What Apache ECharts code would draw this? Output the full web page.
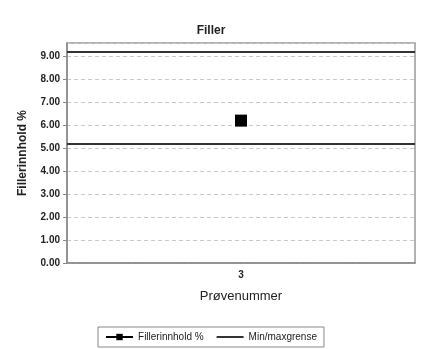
<!DOCTYPE html>
<html>
<head>
<meta charset="utf-8">
<script src="https://cdn.jsdelivr.net/npm/echarts@6/dist/echarts.min.js"></script>
<style>html,body{margin:0;padding:0;background:#fff}#c{width:422px;height:349px}</style>
</head>
<body>
<div id="c"></div>
<script>
var categories = ['3'];
var fillerValues = [6.2];
var limitValues = [5.2, 9.2];
var yTicks = [0, 1, 2, 3, 4, 5, 6, 7, 8, 9];

var FONT = '"Liberation Sans", Arial, sans-serif';
var chart = echarts.init(document.getElementById('c'), null, {renderer: 'canvas'});
chart.setOption({
  backgroundColor: '#fff',
  animation: false,
  title: {
    text: 'Filler', left: 'center', top: 20,
    textStyle: {fontFamily: FONT, fontSize: 12, fontWeight: 'bold', color: '#222'}
  },
  grid: {left: 67, right: 7, top: 43, bottom: 86, show: true, borderColor: '#999', borderWidth: 1.5, backgroundColor: '#fff'},
  xAxis: {
    type: 'category', data: categories, boundaryGap: true,
    name: 'Prøvenummer', nameLocation: 'middle', nameGap: 27,
    nameTextStyle: {fontFamily: FONT, fontSize: 13, color: '#222'},
    axisLine: {lineStyle: {color: '#888', width: 1.5}},
    axisTick: {show: false},
    axisLabel: {fontFamily: FONT, fontSize: 10, fontWeight: 'bold', color: '#222', margin: 7}
  },
  yAxis: {
    type: 'value', min: 0, max: 9.58, interval: 1,
    name: 'Fillerinnhold %', nameLocation: 'middle', nameRotate: 90, nameGap: 38,
    nameTextStyle: {fontFamily: FONT, fontSize: 12, fontWeight: 'bold', color: '#222'},
    axisLine: {show: true, lineStyle: {color: '#888', width: 1.5}},
    axisTick: {show: true, length: 4, lineStyle: {color: '#888'}},
    axisLabel: {
      fontFamily: FONT, fontSize: 10, fontWeight: 'bold', color: '#222', margin: 7, showMaxLabel: false,
      formatter: function (v) { return yTicks.indexOf(v) >= 0 ? v.toFixed(2) : ''; }
    },
    splitLine: {show: true, lineStyle: {color: '#c8c8c8', type: [4, 3], width: 1}}
  },
  legend: {
    bottom: 2, left: 'center',
    data: [
      {name: 'Fillerinnhold %'},
      {name: 'Min/maxgrense', itemStyle: {opacity: 0}}
    ],
    borderColor: '#888', borderWidth: 1, padding: [5, 7],
    itemWidth: 27, itemHeight: 8, itemGap: 12,
    textStyle: {fontFamily: FONT, fontSize: 10, color: '#222'}
  },
  series: [
    {
      name: 'Fillerinnhold %', type: 'line', data: fillerValues,
      symbol: 'rect', symbolSize: 12,
      itemStyle: {color: '#000'}, lineStyle: {color: '#000', width: 1.5}
    },
    {
      name: 'Min/maxgrense', type: 'line', data: [null],
      symbol: 'none', showSymbol: false,
      itemStyle: {color: '#333'}, lineStyle: {color: '#333', width: 1.2},
      markLine: {
        silent: true, symbol: ['none', 'none'],
        label: {show: false},
        lineStyle: {color: '#333', width: 2, type: 'solid'},
        data: limitValues.map(function (v) { return {yAxis: v}; })
      }
    }
  ]
});
</script>
</body>
</html>
